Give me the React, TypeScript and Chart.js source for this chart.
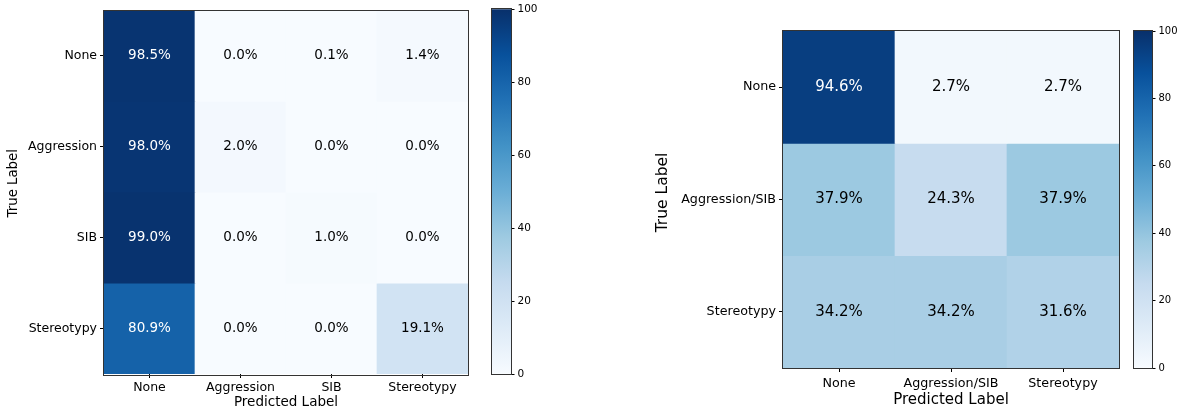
import React, { useEffect, useRef } from 'react';
import { Chart, registerables } from 'chart.js';

Chart.register(...registerables);

const FONT = "'DejaVu Sans', sans-serif";

// ---- Left confusion matrix ----
const leftCategories = ['None', 'Aggression', 'SIB', 'Stereotypy'];
const leftRowNone = [98.5, 0.0, 0.1, 1.4];
const leftRowAggression = [98.0, 2.0, 0.0, 0.0];
const leftRowSIB = [99.0, 0.0, 1.0, 0.0];
const leftRowStereotypy = [80.9, 0.0, 0.0, 19.1];

// ---- Right confusion matrix ----
const rightCategories = ['None', 'Aggression/SIB', 'Stereotypy'];
const rightRowNone = [94.6, 2.7, 2.7];
const rightRowAggSIB = [37.9, 24.3, 37.9];
const rightRowStereotypy = [34.2, 34.2, 31.6];

// ---- Colour bar ----
const colorbarTicks = [0, 20, 40, 60, 80, 100];
const COLOR_MIN = 0;
const COLOR_MAX = 100;

const BLUES = ['#f7fbff', '#deebf7', '#c6dbef', '#9ecae1', '#6baed6', '#4292c6', '#2171b5', '#08519c', '#08306b'];

function hexToRgb(h: string) {
  return [parseInt(h.slice(1, 3), 16), parseInt(h.slice(3, 5), 16), parseInt(h.slice(5, 7), 16)];
}

function blues(t: number) {
  const c = Math.max(0, Math.min(1, t)) * (BLUES.length - 1);
  const i = Math.min(Math.floor(c), BLUES.length - 2);
  const f = c - i;
  const a = hexToRgb(BLUES[i]);
  const b = hexToRgb(BLUES[i + 1]);
  const m = a.map((v, k) => Math.round(v + (b[k] - v) * f));
  return `rgb(${m[0]},${m[1]},${m[2]})`;
}

const framePlugin = {
  id: 'frameBox',
  afterDraw(chart: any) {
    const { ctx, chartArea } = chart;
    ctx.save();
    ctx.strokeStyle = '#333';
    ctx.lineWidth = 1;
    ctx.strokeRect(
      Math.round(chartArea.left) - 0.5,
      Math.round(chartArea.top) - 0.5,
      Math.round(chartArea.right - chartArea.left) + 1,
      Math.round(chartArea.bottom - chartArea.top) + 1
    );
    ctx.restore();
  },
};

const cellTextPlugin = {
  id: 'cellText',
  afterDatasetsDraw(chart: any) {
    const { ctx } = chart;
    const size = chart.options.cellFontSize || 13;
    ctx.save();
    ctx.font = `${size}px ${FONT}`;
    ctx.textAlign = 'center';
    ctx.textBaseline = 'middle';
    chart.data.datasets.forEach((ds: any, di: number) => {
      const meta = chart.getDatasetMeta(di);
      meta.data.forEach((el: any, i: number) => {
        const v = ds.cellValues[i];
        const { x, y, base } = el.getProps(['x', 'y', 'base'], true);
        ctx.fillStyle = v > 50 ? '#ffffff' : '#000000';
        ctx.fillText(v.toFixed(1) + '%', x, (y + base) / 2);
      });
    });
    ctx.restore();
  },
};

const yTitlePlugin = {
  id: 'yTitleText',
  afterDraw(chart: any) {
    const o = chart.options.yTitleOpts;
    if (!o) return;
    const { ctx, chartArea } = chart;
    ctx.save();
    ctx.font = `${o.size}px ${FONT}`;
    ctx.fillStyle = '#000';
    ctx.textAlign = 'center';
    ctx.textBaseline = 'middle';
    ctx.translate(o.x, (chartArea.top + chartArea.bottom) / 2 + o.shift);
    ctx.rotate(-Math.PI / 2);
    ctx.fillText(o.text, 0, 0);
    ctx.restore();
  },
};

type HeatProps = {
  categories: string[];
  rows: number[][];
  left: number;
  width: number;
  yAxisWidth: number;
  padTop: number;
  padRight: number;
  xAxisHeight: number;
  tickFont: number;
  cellFont: number;
  titleFont: number;
  yTitleFont: number;
  yTitleX: number;
  yTitleShift: number;
  xTitlePad: number;
  xTickPad: number;
};

function Heatmap(p: HeatProps) {
  const ref = useRef<HTMLCanvasElement | null>(null);
  useEffect(() => {
    if (!ref.current) return;
    const datasets = p.rows.map((row, r) => ({
      label: p.categories[r],
      data: row.map(() => 1),
      cellValues: row,
      backgroundColor: row.map((v) => blues((v - COLOR_MIN) / (COLOR_MAX - COLOR_MIN))),
      borderWidth: 0,
      barPercentage: 1,
      categoryPercentage: 1,
    }));
    const chart = new Chart(ref.current, {
      type: 'bar',
      data: { labels: p.categories, datasets: datasets as any },
      plugins: [cellTextPlugin, framePlugin, yTitlePlugin],
      options: {
        responsive: false,
        animation: false,
        cellFontSize: p.cellFont,
        yTitleOpts: { text: 'True Label', size: p.yTitleFont, x: p.yTitleX, shift: p.yTitleShift },
        layout: { padding: { top: p.padTop, right: p.padRight, left: 0, bottom: 0 } },
        scales: {
          x: {
            stacked: true,
            grid: { display: true, drawOnChartArea: false, drawTicks: true, tickLength: 4, color: '#000', offset: false },
            border: { display: false },
            ticks: { font: { family: FONT, size: p.tickFont }, color: '#000', padding: p.xTickPad, maxRotation: 0, autoSkip: false },
            title: { display: true, text: 'Predicted Label', font: { family: FONT, size: p.titleFont }, color: '#000', padding: { top: 0, bottom: p.xTitlePad } },
            afterFit: (s: any) => { s.height = p.xAxisHeight; },
          },
          y: {
            stacked: true,
            reverse: true,
            min: 0,
            max: p.rows.length,
            grid: { display: true, drawOnChartArea: false, drawTicks: true, tickLength: 4, color: '#000' },
            border: { display: false },
            afterBuildTicks: (s: any) => { s.ticks = p.categories.map((_, i) => ({ value: i + 0.5 })); },
            ticks: {
              font: { family: FONT, size: p.tickFont },
              color: '#000',
              padding: 3,
              autoSkip: false,
              callback: (_v: any, i: number) => p.categories[i],
            },
            afterFit: (s: any) => { s.width = p.yAxisWidth; },
          },
        },
        plugins: { legend: { display: false }, tooltip: { enabled: false } },
      } as any,
    });
    return () => chart.destroy();
  }, []);
  return (
    <canvas
      ref={ref}
      width={p.width}
      height={412}
      style={{ position: 'absolute', left: p.left, top: 0, width: p.width, height: 412 }}
    />
  );
}

type BarProps = { left: number; width: number; padLeft: number; padTop: number; padBottom: number; axisWidth: number; font: number; tickLen: number; tickPad: number };

function ColorBar(p: BarProps) {
  const ref = useRef<HTMLCanvasElement | null>(null);
  useEffect(() => {
    if (!ref.current) return;
    const chart = new Chart(ref.current, {
      type: 'bar',
      data: {
        labels: [''],
        datasets: [
          {
            data: [COLOR_MAX],
            borderWidth: 0,
            barPercentage: 1,
            categoryPercentage: 1,
            backgroundColor: (ctx: any) => {
              const { chart } = ctx;
              const area = chart.chartArea;
              if (!area) return BLUES[4];
              const g = chart.ctx.createLinearGradient(0, area.bottom, 0, area.top);
              BLUES.forEach((c, i) => g.addColorStop(i / (BLUES.length - 1), c));
              return g;
            },
          },
        ],
      },
      plugins: [framePlugin],
      options: {
        responsive: false,
        animation: false,
        layout: { padding: { left: p.padLeft, top: p.padTop, bottom: p.padBottom, right: 0 } },
        scales: {
          x: { display: false },
          y: {
            position: 'right',
            min: COLOR_MIN,
            max: COLOR_MAX,
            afterBuildTicks: (s: any) => { s.ticks = colorbarTicks.map((v) => ({ value: v })); },
            grid: { display: true, drawOnChartArea: false, drawTicks: true, tickLength: p.tickLen, color: '#000' },
            border: { display: false },
            ticks: { font: { family: FONT, size: p.font }, color: '#000', padding: p.tickPad },
            afterFit: (s: any) => { s.width = p.axisWidth; },
          },
        },
        plugins: { legend: { display: false }, tooltip: { enabled: false } },
      } as any,
    });
    return () => chart.destroy();
  }, []);
  return (
    <canvas
      ref={ref}
      width={p.width}
      height={412}
      style={{ position: 'absolute', left: p.left, top: 0, width: p.width, height: 412 }}
    />
  );
}

export default function App() {
  const leftRows = [leftRowNone, leftRowAggression, leftRowSIB, leftRowStereotypy];
  const rightRows = [rightRowNone, rightRowAggSIB, rightRowStereotypy];
  return (
    <div style={{ position: 'absolute', left: 0, top: 0, width: 1190, height: 412, background: '#fff', overflow: 'hidden' }}>
      <Heatmap
        categories={leftCategories}
        rows={leftRows}
        left={0}
        width={480}
        yAxisWidth={104}
        padTop={8}
        padRight={12}
        xAxisHeight={38}
        tickFont={12.5}
        cellFont={13.5}
        titleFont={13.5}
        yTitleFont={13.3}
        yTitleX={14}
        yTitleShift={-9}
        xTitlePad={1}
        xTickPad={2}
      />
      <ColorBar left={484} width={61} padLeft={8} padTop={8} padBottom={38} axisWidth={34} font={10.5} tickLen={3.5} tickPad={3} />
      <Heatmap
        categories={rightCategories}
        rows={rightRows}
        left={640}
        width={490}
        yAxisWidth={143}
        padTop={31}
        padRight={11}
        xAxisHeight={44}
        tickFont={12.7}
        cellFont={15}
        titleFont={15}
        yTitleFont={15.5}
        yTitleX={23}
        yTitleShift={-7}
        xTitlePad={3}
        xTickPad={4}
      />
      <ColorBar left={1126} width={64} padLeft={8} padTop={31} padBottom={44} axisWidth={38} font={10} tickLen={3.5} tickPad={3} />
    </div>
  );
}
